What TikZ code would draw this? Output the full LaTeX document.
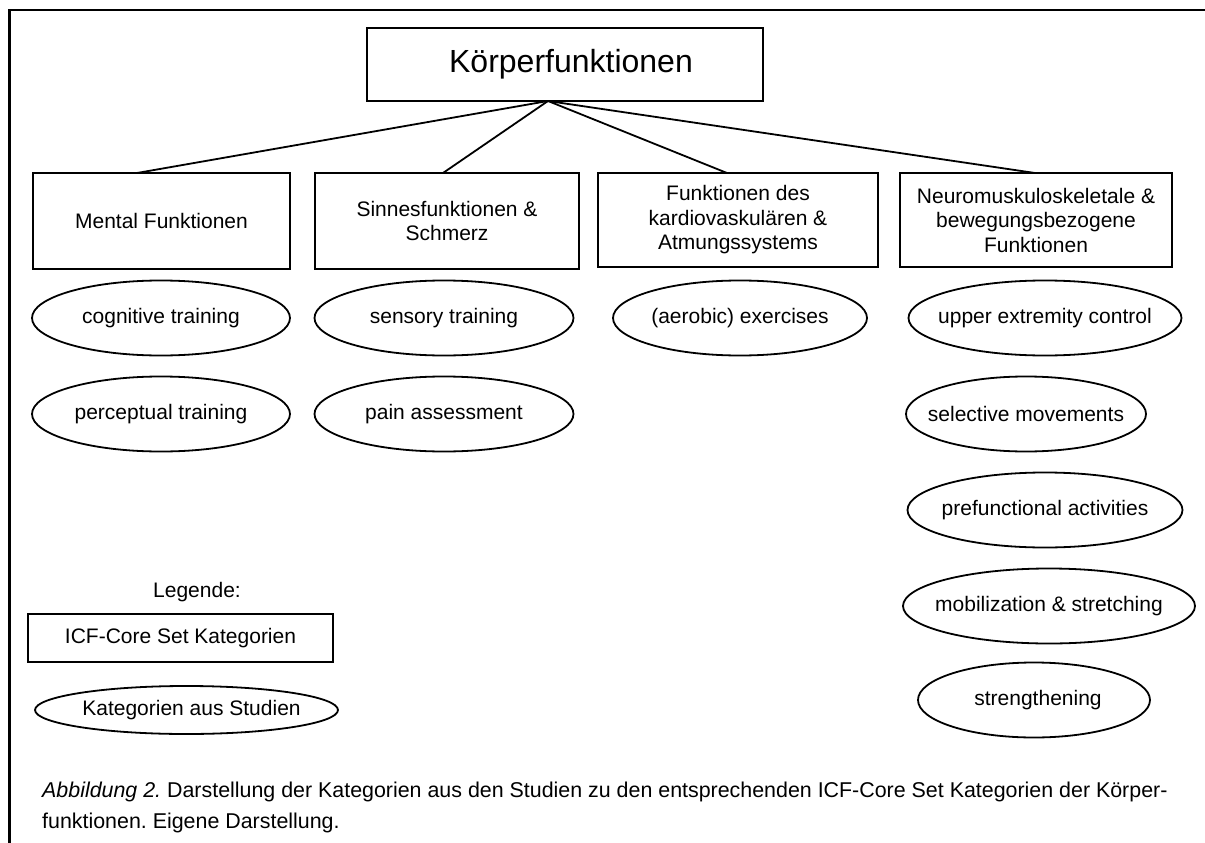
\documentclass[tikz,border=0pt]{standalone}
\usepackage{fontspec}
\setmainfont{Liberation Sans}
\usetikzlibrary{shapes.geometric}
\frenchspacing
\newcommand{\ovtext}[1]{\makebox[0pt]{#1}}
\begin{document}
\begin{tikzpicture}[x=1pt,y=-1pt,
  box/.style={draw, line width=1.8pt, inner sep=0pt, align=center, font=\fontsize{21}{24.5}\selectfont},
  oval/.style={draw, ellipse, line width=1.8pt, inner sep=0pt, font=\fontsize{21}{24}\selectfont},
  conn/.style={line width=1.8pt},
  frame/.style={line width=2.6pt}]
\useasboundingbox (0,0) rectangle (1205,843);
% frame
\coordinate (ftr) at (1205,10);
\coordinate (ftl) at (9.5,10);
\coordinate (fbl) at (9.5,843);
\draw[frame] (ftr) -- (ftl) -- (fbl);
% title
\node[box, minimum width=396, minimum height=73, font=\fontsize{32}{38}\selectfont] (top) at (565,64.5) {\hspace*{12pt}Körperfunktionen};
\coordinate (hub) at (548,101);
% category boxes
\node[box, minimum width=257, minimum height=96] (mental) at (161.5,221) {Mental Funktionen};
\node[box, minimum width=264, minimum height=96] (sinnes) at (447,221) {Sinnesfunktionen \&\\Schmerz};
\node[box, minimum width=280, minimum height=94] (kardio) at (738,220) {Funktionen des\\kardiovaskulären \&\\Atmungssystems};
\node[box, minimum width=272, minimum height=94] (neuro) at (1036,220) {Neuromuskuloskeletale \&\\bewegungsbezogene\\Funktionen};
% connectors
\coordinate (m1) at (137,173);
\coordinate (s1) at (443,173);
\coordinate (k1) at (727,173);
\coordinate (n1) at (1035,173);
\draw[conn] (hub) -- (m1);
\draw[conn] (hub) -- (s1);
\draw[conn] (hub) -- (k1);
\draw[conn] (hub) -- (n1);
% ellipses
\node[oval, minimum width=258, minimum height=75] (cog) at (161,318) {\ovtext{cognitive training}};
\node[oval, minimum width=258, minimum height=75] (perc) at (161,414) {\ovtext{perceptual training}};
\node[oval, minimum width=259, minimum height=75] (sens) at (444,318) {\ovtext{sensory training}};
\node[oval, minimum width=259, minimum height=75] (pain) at (444,414) {\ovtext{pain assessment}};
\node[oval, minimum width=254, minimum height=75] (aer) at (740,318) {\ovtext{(aerobic) exercises}};
\node[oval, minimum width=273, minimum height=75] (upper) at (1045,318) {\ovtext{upper extremity control}};
\node[oval, minimum width=240, minimum height=75] (sel) at (1026,414) {\ovtext{selective movements}};
\node[oval, minimum width=275, minimum height=75] (pref) at (1045,510) {\ovtext{prefunctional activities}};
\node[oval, minimum width=292, minimum height=75] (mob) at (1049,606) {\ovtext{mobilization \& stretching}};
\node[oval, minimum width=232, minimum height=75] (str) at (1034,700) {\ovtext{\hspace*{8pt}strengthening}};
% legend
\node[font=\fontsize{21}{24}\selectfont] (leg) at (197,592) {Legende:};
\node[box, minimum width=305, minimum height=48] (legbox) at (180.5,638) {ICF-Core Set Kategorien};
\node[oval, minimum width=303, minimum height=48] (legoval) at (186.5,710) {\ovtext{\hspace*{10pt}Kategorien aus Studien}};
% caption
\node[anchor=base west, align=left, font=\fontsize{21.4}{31}\selectfont, inner sep=0pt] (cap) at (42,828)
 {\textit{Abbildung 2.} Darstellung der Kategorien aus den Studien zu den entsprechenden ICF-Core Set Kategorien der Körper-\\funktionen. Eigene Darstellung.};
\end{tikzpicture}
\end{document}
